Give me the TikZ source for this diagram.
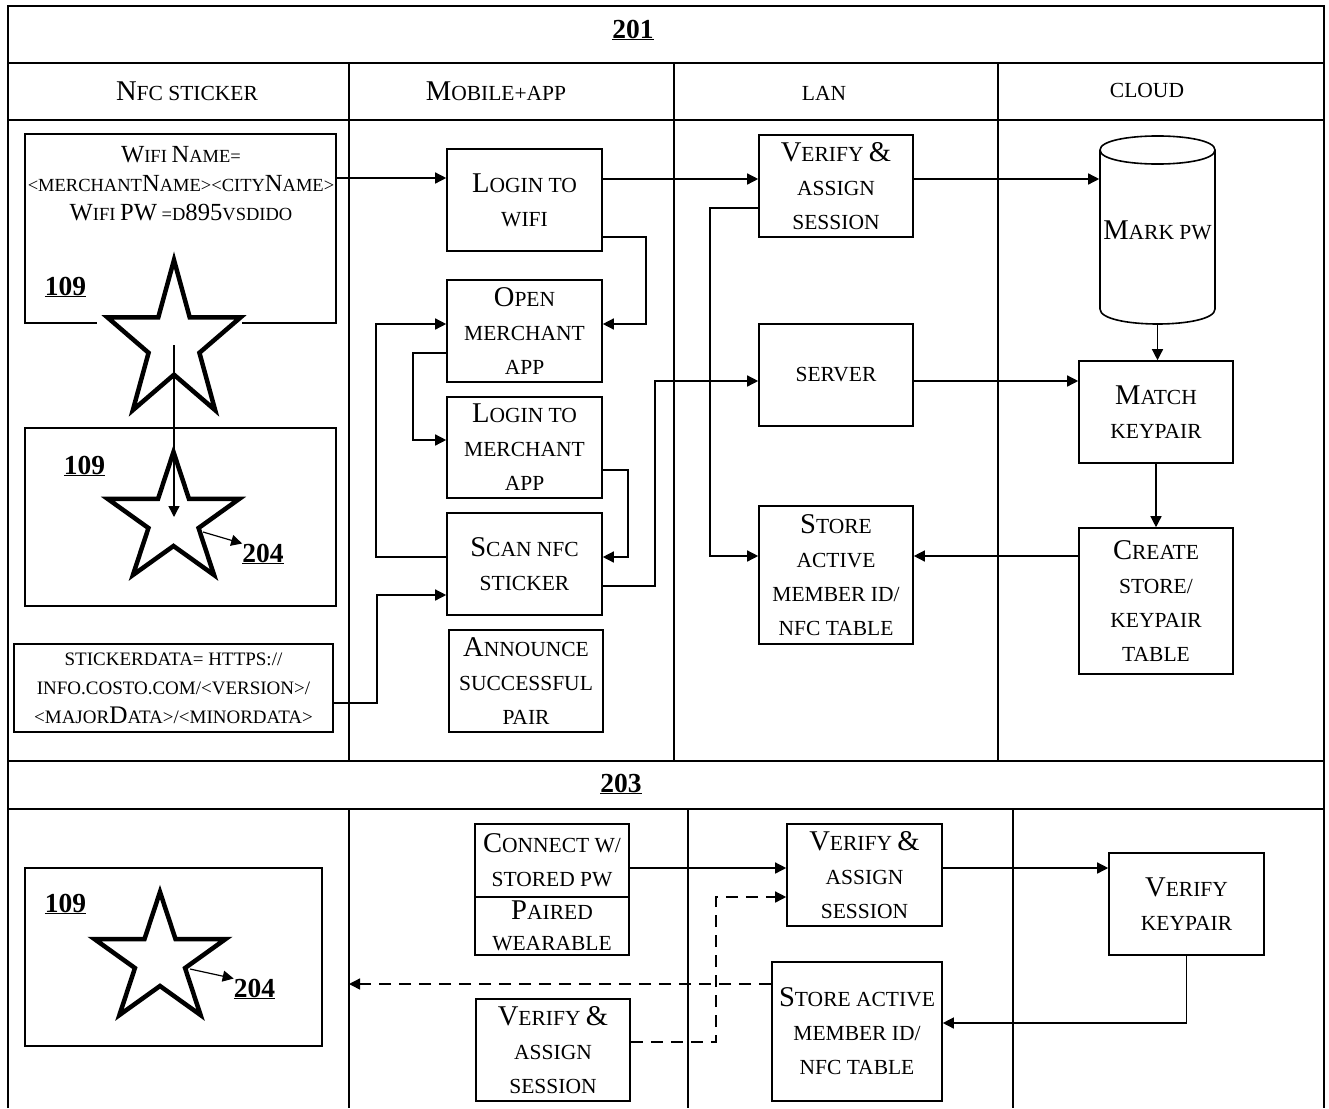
\documentclass[tikz,border=0pt]{standalone}
\usepackage{fontspec}
\setmainfont{Liberation Serif}
\usepackage{graphicx}
\usetikzlibrary{arrows.meta}
\newcommand\B[1]{\scalebox{1.33}{#1}}
\newcommand\refnum[1]{\underline{\textbf{#1}}}
\newcommand\drawstar[4]{%
  \begin{scope}[shift={(#1,#2)},xscale=#3,yscale=#4]
    \draw[starline] (-90:1) -- (-54:0.382) -- (-18:1) -- (18:0.382) -- (54:1) -- (90:0.382) -- (126:1) -- (162:0.382) -- (198:1) -- (234:0.382) -- cycle;
  \end{scope}}
\tikzset{
  frame/.style={line width=1.5pt},
  bx/.style n args={4}{draw, line width=1.6pt, inner sep=0pt, align=center,
    font=\fontsize{21.5}{34}\selectfont,
    minimum width={#3-#1}, minimum height={#4-#2},
    at={({(#1+#3)/2},{(#2+#4)/2})}},
  arr/.style={line width=1.4pt, -{Triangle[length=11pt,width=11pt]}},
  dsh/.style={arr, dash pattern=on 12pt off 8pt},
  hdr/.style={anchor=base, inner sep=0pt, font=\fontsize{21.5}{34}\selectfont},
  lbl/.style={anchor=base, inner sep=0pt, font=\fontsize{27.5}{30}\selectfont},
  starline/.style={line width=4.5pt, line join=miter, fill=white},
}
\begin{document}
\begin{tikzpicture}[x=1pt,y=-1pt]
\useasboundingbox (0,0) rectangle (1329,1108);
% frame
\draw[frame] (8,1108) -- (8,6) -- (1324,6) -- (1324,1108);
\draw[frame] (8,63) -- (1324,63);
\draw[frame] (8,120) -- (1324,120);
\draw[frame] (8,761) -- (1324,761);
\draw[frame] (8,809) -- (1324,809);
\foreach \x in {349,674,998} \draw[frame] (\x,63) -- (\x,761);
\foreach \x in {349,688,1013} \draw[frame] (\x,809) -- (\x,1108);
% titles
\node[lbl] (t201) at (633,38) {\refnum{201}};
\node[lbl] (t203) at (621,792) {\refnum{203}};
\node[hdr] (hn) at (187,100) {\B{N}FC STICKER};
\node[hdr] (hm) at (496,100) {\B{M}OBILE+APP};
\node[hdr] (hl) at (824,100) {LAN};
\node[hdr] (hc) at (1147,97) {CLOUD};
% NFC sticker column
\node[bx={25}{134}{336}{323}] (wifi) {};
\node[anchor=north, inner sep=0pt, align=center, font=\fontsize{18.5}{29}\selectfont] (wifitxt) at (181,146)
  {\B{W}IFI \B{N}AME=\\<MERCHANT\B{N}AME><CITY\B{N}AME>\\\B{W}IFI \B{PW} =D\B{895}VSDIDO};
\fill[white] (97,237) rectangle (242,414);
\drawstar{174}{343}{70}{83}
\node[bx={25}{428}{336}{606}] (box2) {};
\drawstar{173.5}{520}{69}{68}
\node[lbl] (n109a) at (65.5,295) {\refnum{109}};
\node[lbl] (n109b) at (84.5,474) {\refnum{109}};
\node[lbl] (n204a) at (263,562) {\refnum{204}};
\coordinate (s1c) at (174,345);
\coordinate (s2c) at (174,517);
\draw[arr] (s1c) -- (s2c);
\coordinate (s2e) at (203,532);
\draw[arr, line width=1.2pt] (s2e) -- (n204a.north west);
\node[bx={14}{644}{333}{732}, font=\fontsize{19}{29}\selectfont] (sdata)
  {STICKERDATA= HTTPS://\\INFO.COSTO.COM/<VERSION>/\\<MAJOR\B{D}ATA>/<MINORDATA>};
% Mobile column
\node[bx={447}{149}{602}{251}] (lwifi) {\B{L}OGIN TO\\WIFI};
\node[bx={447}{280}{602}{382}] (open) {\B{O}PEN\\MERCHANT\\APP};
\node[bx={447}{397}{602}{498}] (lmer) {\B{L}OGIN TO\\MERCHANT\\APP};
\node[bx={447}{513}{602}{615}] (scan) {\B{S}CAN NFC\\STICKER};
\node[bx={449}{630}{603}{732}] (ann) {\B{A}NNOUNCE\\SUCCESSFUL\\PAIR};
% LAN column
\node[bx={759}{135}{913}{237}] (vas) {\B{V}ERIFY \B{\&}\\ASSIGN\\SESSION};
\node[bx={759}{324}{913}{426}] (server) {SERVER};
\node[bx={759}{506}{913}{644}] (store) {\B{S}TORE\\ACTIVE\\MEMBER ID/\\NFC TABLE};
% Cloud column
\draw[line width=1.6pt, fill=white] (1100,150) -- (1100,309) .. controls (1100,329) and (1215,329) .. (1215,309)
  -- (1215,150) .. controls (1215,131.3) and (1100,131.3) .. (1100,150) -- cycle;
\draw[line width=1.6pt] (1100,150) .. controls (1100,168.7) and (1215,168.7) .. (1215,150);
\node[bx={1100}{137}{1215}{324}, draw=none] (mark) {\B{M}ARK PW};
\node[bx={1079}{361}{1233}{463}] (match) {\B{M}ATCH\\KEYPAIR};
\node[bx={1079}{528}{1233}{674}] (create) {\B{C}REATE\\STORE/\\KEYPAIR\\TABLE};
% connectors 201
\draw[arr] (wifi.east |- 0,178) -- (lwifi.west |- 0,178);
\draw[arr] (lwifi.east |- 0,179) -- (vas.west |- 0,179);
\draw[arr] (vas.east |- 0,179) -- (mark.west |- 0,179);
\draw[arr] (mark.south) -- (mark.south |- match.north);
\draw[arr] (match.south) -- (create.north);
\draw[arr] (server.east |- 0,381) -- (match.west |- 0,381);
\draw[arr] (create.west |- 0,556) -- (store.east |- 0,556);
\draw[arr] (vas.west |- 0,208) -- (710,208) -- (710,556) -- (store.west |- 0,556);
\draw[arr] (lwifi.east |- 0,237) -- (646,237) -- (646,324) -- (open.east |- 0,324);
\draw[arr] (open.west |- 0,353) -- (413,353) -- (413,440) -- (lmer.west |- 0,440);
\draw[arr] (scan.west |- 0,557) -- (376,557) -- (376,324) -- (open.west |- 0,324);
\draw[arr] (lmer.east |- 0,470) -- (628,470) -- (628,557) -- (scan.east |- 0,557);
\draw[arr] (scan.east |- 0,586) -- (655,586) -- (655,381) -- (server.west |- 0,381);
\draw[arr] (sdata.east |- 0,703) -- (377,703) -- (377,595) -- (scan.west |- 0,595);
% section 203
\node[bx={25}{868}{322}{1046}] (box3) {};
\drawstar{160}{960}{69}{68}
\node[lbl] (n109c) at (65.5,912) {\refnum{109}};
\node[lbl] (n204b) at (254.5,997) {\refnum{204}};
\coordinate (s3e) at (190,969);
\draw[arr, line width=1.2pt] (s3e) -- (n204b.north west);
\node[bx={475}{824}{629}{897}] (conn) {\B{C}ONNECT W/\\STORED PW};
\node[bx={475}{897}{629}{955}, font=\fontsize{21.5}{31}\selectfont] (paired) {\B{P}AIRED\\WEARABLE};
\node[bx={476}{999}{630}{1101}] (va2) {\B{V}ERIFY \B{\&}\\ASSIGN\\SESSION};
\node[bx={787}{824}{942}{926}] (v2) {\B{V}ERIFY \B{\&}\\ASSIGN\\SESSION};
\node[bx={772}{962}{942}{1101}] (st2) {\B{S}TORE ACTIVE\\MEMBER ID/\\NFC TABLE};
\node[bx={1109}{853}{1264}{955}] (vk) {\B{V}ERIFY\\KEYPAIR};
\coordinate (lanedge) at (349,984);
\draw[arr] (conn.east |- 0,868) -- (v2.west |- 0,868);
\draw[arr] (v2.east |- 0,868) -- (vk.west |- 0,868);
\draw[arr] (vk.south) -- (vk.south |- 0,1023) -- (st2.east |- 0,1023);
\draw[dsh] (st2.west |- 0,984) -- (lanedge);
\draw[dsh] (va2.east |- 0,1042) -- (716,1042) -- (716,897) -- (v2.west |- 0,897);
\end{tikzpicture}
\end{document}
